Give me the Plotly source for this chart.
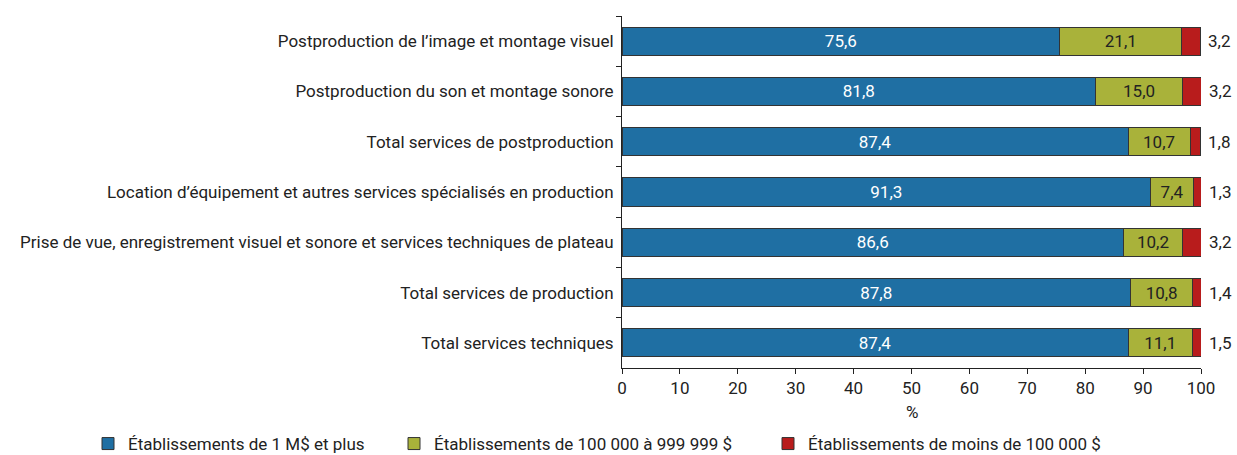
import plotly.graph_objects as go

categories = [
    "Postproduction de l’image et montage visuel",
    "Postproduction du son et montage sonore",
    "Total services de postproduction",
    "Location d’équipement et autres services spécialisés en production",
    "Prise de vue, enregistrement visuel et sonore et services techniques de plateau",
    "Total services de production",
    "Total services techniques",
]
large = [75.6, 81.8, 87.4, 91.3, 86.6, 87.8, 87.4]
medium = [21.1, 15.0, 10.7, 7.4, 10.2, 10.8, 11.1]
small = [3.2, 3.2, 1.8, 1.3, 3.2, 1.4, 1.5]
series_names = [
    "Établissements de 1 M$ et plus",
    "Établissements de 100 000 à 999 999 $",
    "Établissements de moins de 100 000 $",
]
colors = ["#1f6fa3", "#a9b23a", "#b81c1c"]

FONT = "Roboto"
FS = 17
W, H = 1237, 455

def fmt(v):
    return f"{v:.1f}".replace(".", ",")

fig = go.Figure()
fig.add_trace(go.Bar(
    y=categories, x=large, orientation="h", name=series_names[0], legend="legend",
    marker=dict(color=colors[0], line=dict(color="#333333", width=1)),
    text=[fmt(v) for v in large], textposition="inside", insidetextanchor="middle",
    textfont=dict(color="white", size=FS, family=FONT),
))
fig.add_trace(go.Bar(
    y=categories, x=medium, orientation="h", name=series_names[1], legend="legend2",
    marker=dict(color=colors[1], line=dict(color="#333333", width=1)),
    text=[fmt(v) for v in medium], textposition="inside", insidetextanchor="middle",
    textfont=dict(color="#222222", size=FS, family=FONT),
))
fig.add_trace(go.Bar(
    y=categories, x=small, orientation="h", name=series_names[2], legend="legend3",
    marker=dict(color=colors[2], line=dict(color="#333333", width=1)),
    textposition="none",
))

for c, l, m, s in zip(categories, large, medium, small):
    fig.add_annotation(
        x=l + m + s, y=c, text=fmt(s), showarrow=False, xanchor="left",
        xshift=6, font=dict(size=FS, color="#222222", family=FONT),
    )

fig.add_annotation(x=0.5, xref="paper", y=0, yref="paper", text="%", showarrow=False,
                   yanchor="middle", yshift=-44, font=dict(size=FS, family=FONT))

leg_common = dict(orientation="h", xref="container", yref="container", y=(H - 444) / H,
                  yanchor="middle", xanchor="left", bgcolor="rgba(0,0,0,0)",
                  font=dict(size=FS, family=FONT, color="#222222"), itemwidth=30)

fig.update_layout(
    barmode="stack",
    bargap=0.44,
    width=W, height=H,
    margin=dict(l=622, r=36, t=16, b=87, autoexpand=False),
    paper_bgcolor="white", plot_bgcolor="white",
    font=dict(family=FONT, size=FS, color="#222222"),
    showlegend=True,
    legend=dict(leg_common, x=88 / W),
    legend2=dict(leg_common, x=394 / W),
    legend3=dict(leg_common, x=768 / W),
    uniformtext=dict(mode="show", minsize=10),
)
fig.update_xaxes(
    range=[0, 100], tickvals=list(range(0, 101, 10)), ticks="outside", ticklen=5,
    tickcolor="#222222", showline=True, linecolor="#222222", linewidth=1,
    showgrid=False, zeroline=False, tickfont=dict(size=FS), automargin=False,
)
fig.update_yaxes(
    autorange="reversed", ticks="outside", tickson="boundaries", ticklen=5,
    tickcolor="#222222", showline=True, linecolor="#222222", linewidth=1,
    showgrid=False, tickfont=dict(size=FS), ticklabelstandoff=4, automargin=False,
)
fig.write_html(
    "out.html",
    config={"displayModeBar": False},
    post_script="document.body.style.margin='0';document.body.style.overflow='hidden';",
)
